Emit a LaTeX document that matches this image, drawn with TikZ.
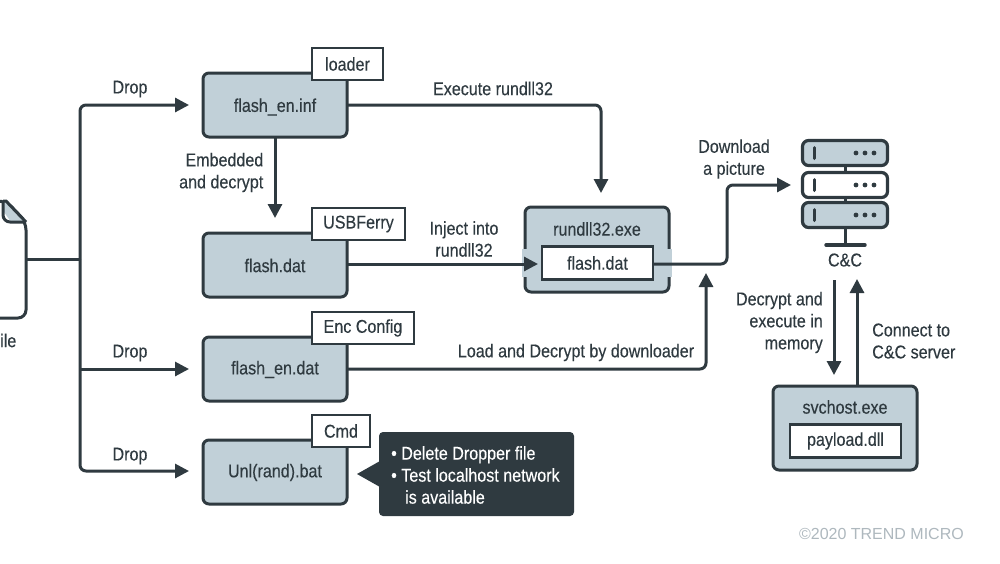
\documentclass[tikz,border=0pt]{standalone}
\usepackage{fontspec}
\setmainfont[FakeStretch=0.87,FakeBold=0.25]{Liberation Sans}
\newfontfamily\markfont{Liberation Sans}
\usetikzlibrary{arrows.meta,calc}
\definecolor{ink}{HTML}{2F3A40}
\definecolor{boxfill}{HTML}{C1D0D8}
\definecolor{markgrey}{HTML}{AEB8BE}
\tikzset{
  x=1pt,y=-1pt,
  lbl/.style={font=\fontsize{18.5}{22}\selectfont,text=ink,align=center,inner sep=0pt},
  panel/.style={draw=ink,fill=boxfill,line width=3pt,rounded corners=6pt,minimum width=144pt,minimum height=64pt,outer sep=0pt,lbl},
  tagbox/.style={draw=ink,fill=white,line width=2.4pt,minimum height=32pt,outer sep=0pt,lbl},
  innerbox/.style={tagbox,minimum width=111pt,minimum height=33pt},
  conn/.style={draw=ink,line width=3pt,rounded corners=6pt,-{Triangle[length=14pt,width=14pt]}},
  plain/.style={draw=ink,line width=3pt,rounded corners=6pt},
  rack/.style={draw=ink,line width=3.2pt,rounded corners=6pt,minimum width=85pt,minimum height=25pt,outer sep=0pt},
}
\begin{document}
\begin{tikzpicture}
\useasboundingbox (0,0) rectangle (1000,563);
\clip (0,0) rectangle (1000,563);
\fill[white] (0,0) rectangle (1000,563);

% dropped file icon
\draw[line width=3pt,draw=ink,fill=white,line join=round,rounded corners=8pt] (-20,201) -- (6,201) -- (26,222) -- (26,318) -- (-20,318) -- cycle;
\fill[boxfill] (4,202) -- (4,212) -- (11,222) -- (25,222) -- (6,202) -- cycle;
\draw[line width=3pt,draw=ink,line join=round,rounded corners=7pt] (3,201) -- (3,222) -- (26,222);
\draw[line width=3pt,draw=ink] (3,201) -- (6,201) -- (26,222);
\coordinate (filept) at (26,259);
\node[lbl,anchor=west] (filelabel) at (0,340.5) {ile};

% main boxes
\node[panel] (inf) at (275,105) {};
\node[panel] (dat) at (275,265) {};
\node[panel] (endat) at (275,369) {};
\node[panel] (bat) at (275,472) {};
\node[lbl] (inftxt) at (275,107) {flash\_en.inf};
\node[lbl] (dattxt) at (275,265.5) {flash.dat};
\node[lbl] (endattxt) at (275,369.5) {flash\_en.dat};
\node[lbl] (battxt) at (275,472.5) {Unl(rand).bat};

\node[tagbox,minimum width=71pt] (tagloader) at (347.5,64) {loader};
\node[tagbox,minimum width=93pt] (tagusb) at (358.5,224) {USBFerry};
\node[tagbox,minimum width=102pt] (tagenc) at (363,328) {Enc Config};
\node[tagbox,minimum width=58pt] (tagcmd) at (341,431) {Cmd};

% rundll32 host
\node[panel,minimum height=85pt] (rundll) at (597,249.5) {};
\fill[boxfill] (522,249) rectangle (528,277);
\fill[boxfill] (666,249) rectangle (672,277);
\node[lbl] (rundlltxt) at (597,229) {rundll32.exe};
\node[innerbox] (inner) at (597.5,263) {flash.dat};

% svchost
\node[panel,minimum height=84pt] (svc) at (845,428) {};
\node[lbl] (svctxt) at (845,407) {svchost.exe};
\node[innerbox] (payload) at (845.5,441) {payload.dll};

% server
\node[rack,fill=boxfill] (r1) at (845,153) {};
\node[rack,fill=white] (r2) at (845,185) {};
\node[rack,fill=boxfill] (r3) at (845,215) {};
\foreach \r in {r1,r2,r3}{
  \draw[ink,line width=3pt,line cap=round] ($(\r.center)+(-31,-5.5)$) -- ($(\r.center)+(-31,5.5)$);
  \foreach \dx in {11,20,29}{\fill[ink] ($(\r.center)+(\dx,0)$) circle (2.4pt);}
}
\draw[ink,line width=3pt] (r1) -- (r2);
\draw[ink,line width=3pt] (r2) -- (r3);
\coordinate (basept) at (845,245);
\draw[ink,line width=3pt] (r3) -- (basept);
\draw[ink,line width=3.4pt,line cap=round] (826,245) -- (865,245);
\node[lbl] (cc) at (845,260) {C\&C};

% connectors
\coordinate (spinetop) at (80,105);
\coordinate (spinemid) at (80,369);
\coordinate (spinebot) at (80,471);
\coordinate (tipa) at (189,105);
\coordinate (tipb) at (189,369);
\coordinate (tipc) at (189,471);
\draw[plain] (filept) -- (80,259);
\draw[conn] (80,259) -- (spinetop) -- (tipa);
\draw[conn] (80,259) -- (spinebot) -- (tipc);
\draw[conn] (spinemid) -- (tipb);
\coordinate (execturn) at (601,105);
\coordinate (exectip) at (601,193);
\draw[conn] (inf.east) -- (execturn) -- (exectip);
\coordinate (dectip) at (275,218);
\draw[conn] (inf.south) -- (dectip);
\coordinate (injtip) at (538,264);
\draw[conn] (dat.east |- injtip) -- (injtip);
\coordinate (dlturn) at (727,264);
\coordinate (dlturnb) at (727,185);
\coordinate (dltip) at (791,185);
\draw[conn] (inner.east |- dlturn) -- (dlturn) -- (dlturnb) -- (dltip);
\coordinate (loadturn) at (706,369);
\coordinate (loadtip) at (706,273);
\draw[conn] (endat.east) -- (loadturn) -- (loadtip);
\coordinate (memstart) at (834,280);
\coordinate (memtip) at (834,375);
\draw[conn] (memstart) -- (memtip);
\coordinate (srvstart) at (857,386);
\coordinate (srvtip) at (857,279);
\draw[conn] (srvstart) -- (srvtip);

% connector labels
\node[lbl] (l1) at (130,89) {Drop};
\node[lbl] (l2) at (130,353) {Drop};
\node[lbl] (l3) at (130,456) {Drop};
\node[lbl] (l4) at (493,88.5) {Execute rundll32};
\node[lbl,align=right,anchor=east] (l5) at (263.5,172.5) {Embedded\\and decrypt};
\node[lbl] (l6) at (464,239) {Inject into\\rundll32};
\node[lbl] (l7) at (734,159) {Download\\a picture};
\node[lbl] (l8) at (576,352.5) {Load and Decrypt by downloader};
\node[lbl,align=right,anchor=east] (l9) at (823,322.5) {Decrypt and\\execute in\\memory};
\node[lbl,align=left,anchor=west] (l10) at (872,341) {Connect to\\C\&C server};

% callout
\fill[ink,rounded corners=4pt] (379,432) rectangle (574,516);
\fill[ink] (357,474) -- (380,461) -- (380,487) -- cycle;
\node[lbl,text=white,align=left,anchor=west] (note) at (391,475) {• Delete Dropper file\\• Test localhost network\\\hspace*{14pt}is available};

\node[font=\markfont\fontsize{16}{20}\selectfont,text=markgrey,anchor=east,inner sep=0pt] (copy) at (964,534) {©2020 TREND MICRO};
\end{tikzpicture}
\end{document}
